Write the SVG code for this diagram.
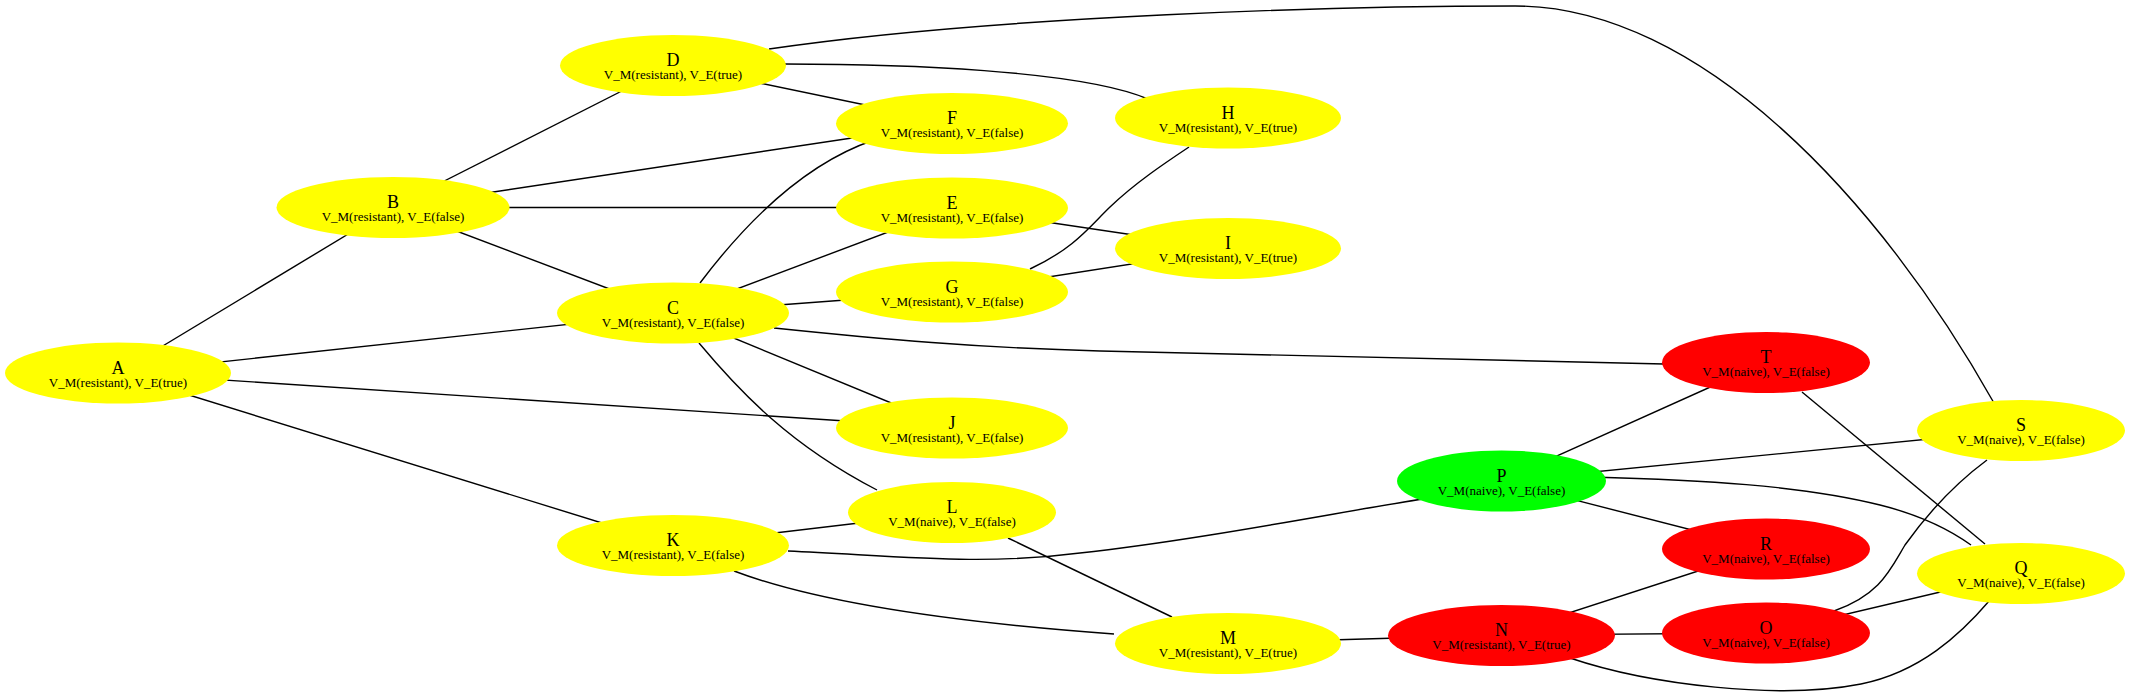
<svg xmlns="http://www.w3.org/2000/svg" width="2130" height="697" viewBox="0 0 2130 697">
<style>
.e{fill:none;stroke:#000;stroke-width:1.4}
.y{fill:#ffff00}.g{fill:#00ff00}.r{fill:#ff0000}
.t{font-family:"Liberation Serif",serif;font-size:18px;text-anchor:middle;fill:#000}
.s{font-family:"Liberation Serif",serif;font-size:13px;text-anchor:middle;fill:#000}
</style>
<rect width="2130" height="697" fill="#fff"/>
<g id="edges">
<path class="e" d="M118,373 L393,207"/>
<path class="e" d="M118,373 L673,313"/>
<path class="e" d="M118,373 L952,428"/>
<path class="e" d="M118,373 L673,545"/>
<path class="e" d="M393,207 L673,65"/>
<path class="e" d="M393,207 L952,123"/>
<path class="e" d="M393,207.5 L952,207.5"/>
<path class="e" d="M393,207 L673,313"/>
<path class="e" d="M673,65 L952,123"/>
<path class="e" d="M785,64 C900,64 1080,70 1148,99"/>
<path class="e" d="M769,49 C1000,15 1350,6 1515,6 C1700,6 1880,200 1994,403"/>
<path class="e" d="M700,283 C740,230 800,165 874,140"/>
<path class="e" d="M673,313 L952,208"/>
<path class="e" d="M673,313 L952,292"/>
<path class="e" d="M673,313 L952,428"/>
<path class="e" d="M774,328 C880,339 980,348 1100,351 C1300,356 1500,362 1664,364"/>
<path class="e" d="M699,343 C740,392 790,445 877,490"/>
<path class="e" d="M952,208 L1228,249"/>
<path class="e" d="M1030,269 C1075,248 1090,226 1110,207 C1135,183 1165,163 1189,147"/>
<path class="e" d="M952,292 L1228,249"/>
<path class="e" d="M673,545 L952,512"/>
<path class="e" d="M788,551 C900,556 980,566 1080,553 C1200,540 1350,510 1423,499"/>
<path class="e" d="M734,571 C800,596 920,620 1114,634"/>
<path class="e" d="M1008,538 L1172,617"/>
<path class="e" d="M1228,643 L1501,635"/>
<path class="e" d="M1501,635 L1766,549"/>
<path class="e" d="M1501,635 L1766,633"/>
<path class="e" d="M1570,658 C1650,685 1780,700 1861,684 C1920,672 1960,635 1990,600"/>
<path class="e" d="M1501,481 L1766,362"/>
<path class="e" d="M1501,481 L2021,430"/>
<path class="e" d="M1591,477 C1700,480 1800,485 1880,505 C1920,515 1950,530 1971,545"/>
<path class="e" d="M1501,481 L1766,549"/>
<path class="e" d="M1802,392 L1985,544"/>
<path class="e" d="M1834,611 C1880,595 1890,570 1905,545 C1930,510 1960,480 1987,460"/>
<path class="e" d="M1766,633 L2021,573"/>
</g>
<g id="A"><ellipse class="y" cx="118" cy="373" rx="113" ry="30.5"/><text class="t" x="118" y="374">A</text><text class="s" x="118" y="387">V_M(resistant), V_E(true)</text></g>
<g id="B"><ellipse class="y" cx="393" cy="207.5" rx="116.5" ry="30.5"/><text class="t" x="393" y="208">B</text><text class="s" x="393" y="221">V_M(resistant), V_E(false)</text></g>
<g id="C"><ellipse class="y" cx="673" cy="313" rx="116" ry="30.5"/><text class="t" x="673" y="313.5">C</text><text class="s" x="673" y="326.5">V_M(resistant), V_E(false)</text></g>
<g id="D"><ellipse class="y" cx="673" cy="65.5" rx="113" ry="30.5"/><text class="t" x="673" y="66">D</text><text class="s" x="673" y="79">V_M(resistant), V_E(true)</text></g>
<g id="E"><ellipse class="y" cx="952" cy="208" rx="116" ry="30.5"/><text class="t" x="952" y="208.5">E</text><text class="s" x="952" y="221.5">V_M(resistant), V_E(false)</text></g>
<g id="F"><ellipse class="y" cx="952" cy="123.5" rx="116" ry="30.5"/><text class="t" x="952" y="124">F</text><text class="s" x="952" y="137">V_M(resistant), V_E(false)</text></g>
<g id="G"><ellipse class="y" cx="952" cy="292" rx="116" ry="30.5"/><text class="t" x="952" y="292.5">G</text><text class="s" x="952" y="305.5">V_M(resistant), V_E(false)</text></g>
<g id="H"><ellipse class="y" cx="1228" cy="118" rx="113" ry="30.5"/><text class="t" x="1228" y="118.5">H</text><text class="s" x="1228" y="131.5">V_M(resistant), V_E(true)</text></g>
<g id="I"><ellipse class="y" cx="1228" cy="248.5" rx="113" ry="30.5"/><text class="t" x="1228" y="249">I</text><text class="s" x="1228" y="262">V_M(resistant), V_E(true)</text></g>
<g id="J"><ellipse class="y" cx="952" cy="428" rx="116" ry="30.5"/><text class="t" x="952" y="428.5">J</text><text class="s" x="952" y="441.5">V_M(resistant), V_E(false)</text></g>
<g id="K"><ellipse class="y" cx="673" cy="545.5" rx="116" ry="30.5"/><text class="t" x="673" y="546">K</text><text class="s" x="673" y="559">V_M(resistant), V_E(false)</text></g>
<g id="L"><ellipse class="y" cx="952" cy="512.5" rx="104" ry="30.5"/><text class="t" x="952" y="513">L</text><text class="s" x="952" y="526">V_M(naive), V_E(false)</text></g>
<g id="M"><ellipse class="y" cx="1228" cy="643.5" rx="113" ry="30.5"/><text class="t" x="1228" y="644">M</text><text class="s" x="1228" y="657">V_M(resistant), V_E(true)</text></g>
<g id="N"><ellipse class="r" cx="1501.5" cy="635.5" rx="113.5" ry="30.5"/><text class="t" x="1501.5" y="636">N</text><text class="s" x="1501.5" y="649">V_M(resistant), V_E(true)</text></g>
<g id="O"><ellipse class="r" cx="1766" cy="633" rx="104" ry="30.5"/><text class="t" x="1766" y="633.5">O</text><text class="s" x="1766" y="646.5">V_M(naive), V_E(false)</text></g>
<g id="P"><ellipse class="g" cx="1501.5" cy="481" rx="104.5" ry="30.5"/><text class="t" x="1501.5" y="481.5">P</text><text class="s" x="1501.5" y="494.5">V_M(naive), V_E(false)</text></g>
<g id="Q"><ellipse class="y" cx="2021" cy="573.5" rx="104" ry="30.5"/><text class="t" x="2021" y="574">Q</text><text class="s" x="2021" y="587">V_M(naive), V_E(false)</text></g>
<g id="R"><ellipse class="r" cx="1766" cy="549" rx="104" ry="30.5"/><text class="t" x="1766" y="549.5">R</text><text class="s" x="1766" y="562.5">V_M(naive), V_E(false)</text></g>
<g id="S"><ellipse class="y" cx="2021" cy="430.5" rx="104" ry="30.5"/><text class="t" x="2021" y="431">S</text><text class="s" x="2021" y="444">V_M(naive), V_E(false)</text></g>
<g id="T"><ellipse class="r" cx="1766" cy="362.5" rx="104" ry="30.5"/><text class="t" x="1766" y="363">T</text><text class="s" x="1766" y="376">V_M(naive), V_E(false)</text></g>
</svg>
